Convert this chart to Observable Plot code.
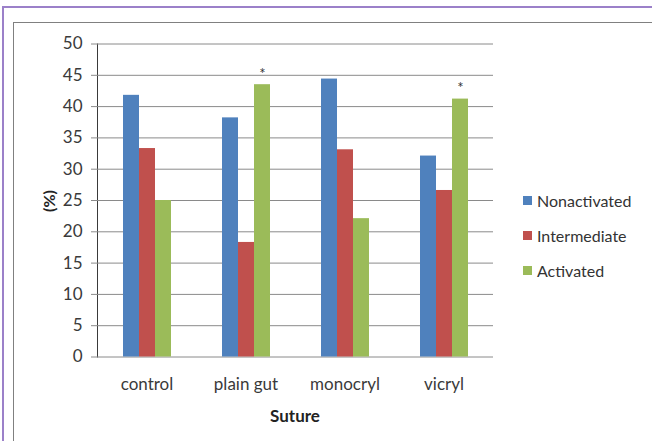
<!DOCTYPE html>
<html>
<head>
<meta charset="utf-8">
<script src="https://cdn.jsdelivr.net/npm/d3@7"></script>
<script src="https://cdn.jsdelivr.net/npm/@observablehq/plot@0.6"></script>
<style>
  html, body { margin: 0; padding: 0; background: #fff; }
  #wrap { position: relative; width: 652px; height: 441px; overflow: hidden; font-family: Lato, "Open Sans", sans-serif; color: #3a3a3a; }
  .border1 { position: absolute; left: 2px; top: 6px; width: 800px; height: 600px; border-left: 2px solid #9b80c9; border-top: 2px solid #9b80c9; }
  .border2 { position: absolute; left: 13px; top: 22px; width: 800px; height: 600px; border-left: 1.5px solid #808080; border-top: 1.5px solid #808080; }
  #chart { position: absolute; left: 0; top: 0; }
  #chart svg { background: none; }
  #chart g[aria-label="y-axis tick"] path, #chart g[aria-label="y-axis"] path { stroke: #8a8a8a; }
  #chart g[aria-label="y-axis tick label"] text, #chart g[aria-label="y-axis"] text { font-size: 17px; }
  #chart g[aria-label="fx-axis tick label"] text, #chart g[aria-label="fx-axis"] text { font-size: 17px; }
  .ylabel { position: absolute; left: 48px; top: 201px; transform: translate(-50%, -50%) rotate(-90deg); font-weight: bold; font-size: 16px; color: #222; white-space: nowrap; }
  .xlabel { position: absolute; left: 295px; top: 415px; transform: translate(-50%, -50%); font-weight: bold; font-size: 17px; color: #222; white-space: nowrap; }
  #legend { position: absolute; left: 523px; top: 183px; }
  .item { display: flex; align-items: center; height: 35px; font-size: 16px; color: #333; white-space: nowrap; }
  .sw { width: 9px; height: 9px; margin-right: 5px; flex: none; }
</style>
</head>
<body>
<div id="wrap">
  <div class="border1"></div>
  <div class="border2"></div>
  <div id="chart"></div>
  <div class="ylabel">(%)</div>
  <div class="xlabel">Suture</div>
  <div id="legend"></div>
</div>
<script>
const sutures = ["control", "plain gut", "monocryl", "vicryl"];
const series = ["Nonactivated", "Intermediate", "Activated"];
const colors = ["#4F81BD", "#C0504D", "#9BBB59"];
const nonactivated = [41.8, 38.2, 44.4, 32.1];
const intermediate = [33.3, 18.3, 33.1, 26.6];
const activated = [25.0, 43.5, 22.1, 41.2];
const activatedMarks = ["", "*", "", "*"];
const yTicks = [0, 5, 10, 15, 20, 25, 30, 35, 40, 45, 50];

const seriesValues = [nonactivated, intermediate, activated];
const rows = sutures.flatMap((s, i) => series.map((k, j) => ({suture: s, series: k, value: seriesValues[j][i]})));
const starRows = sutures.map((s, i) => ({suture: s, series: "Activated", value: activated[i], mark: activatedMarks[i]})).filter(d => d.mark);

const chart = Plot.plot({
  width: 652,
  height: 441,
  marginTop: 43.5,
  marginBottom: 84.5,
  marginLeft: 96,
  marginRight: 158,
  style: {fontFamily: "Lato, 'Open Sans', sans-serif", fontSize: "17px", color: "#3a3a3a", background: "none", overflow: "visible"},
  fx: {domain: sutures, padding: 0, label: null, axis: "bottom", tickSize: 0, tickPadding: 21},
  x: {domain: series, axis: null, paddingInner: 0, paddingOuter: 1.5},
  y: {domain: [0, 50], ticks: yTicks, tickSize: 6, tickPadding: 9, label: null, line: true},
  color: {domain: series, range: colors},
  marks: [
    Plot.ruleY(yTicks, {stroke: "#8a8a8a", strokeWidth: 1}),
    Plot.barY(rows, {fx: "suture", x: "series", y: "value", fill: "series"}),
    Plot.text(starRows, {fx: "suture", x: "series", y: "value", text: "mark", dy: -6, lineAnchor: "bottom", fontSize: 15, fill: "#333"})
  ]
});
document.getElementById("chart").appendChild(chart);

const legend = document.getElementById("legend");
series.forEach((name, i) => {
  const item = document.createElement("div");
  item.className = "item";
  const sw = document.createElement("span");
  sw.className = "sw";
  sw.style.background = colors[i];
  item.appendChild(sw);
  item.appendChild(document.createTextNode(name));
  legend.appendChild(item);
});
</script>
</body>
</html>
